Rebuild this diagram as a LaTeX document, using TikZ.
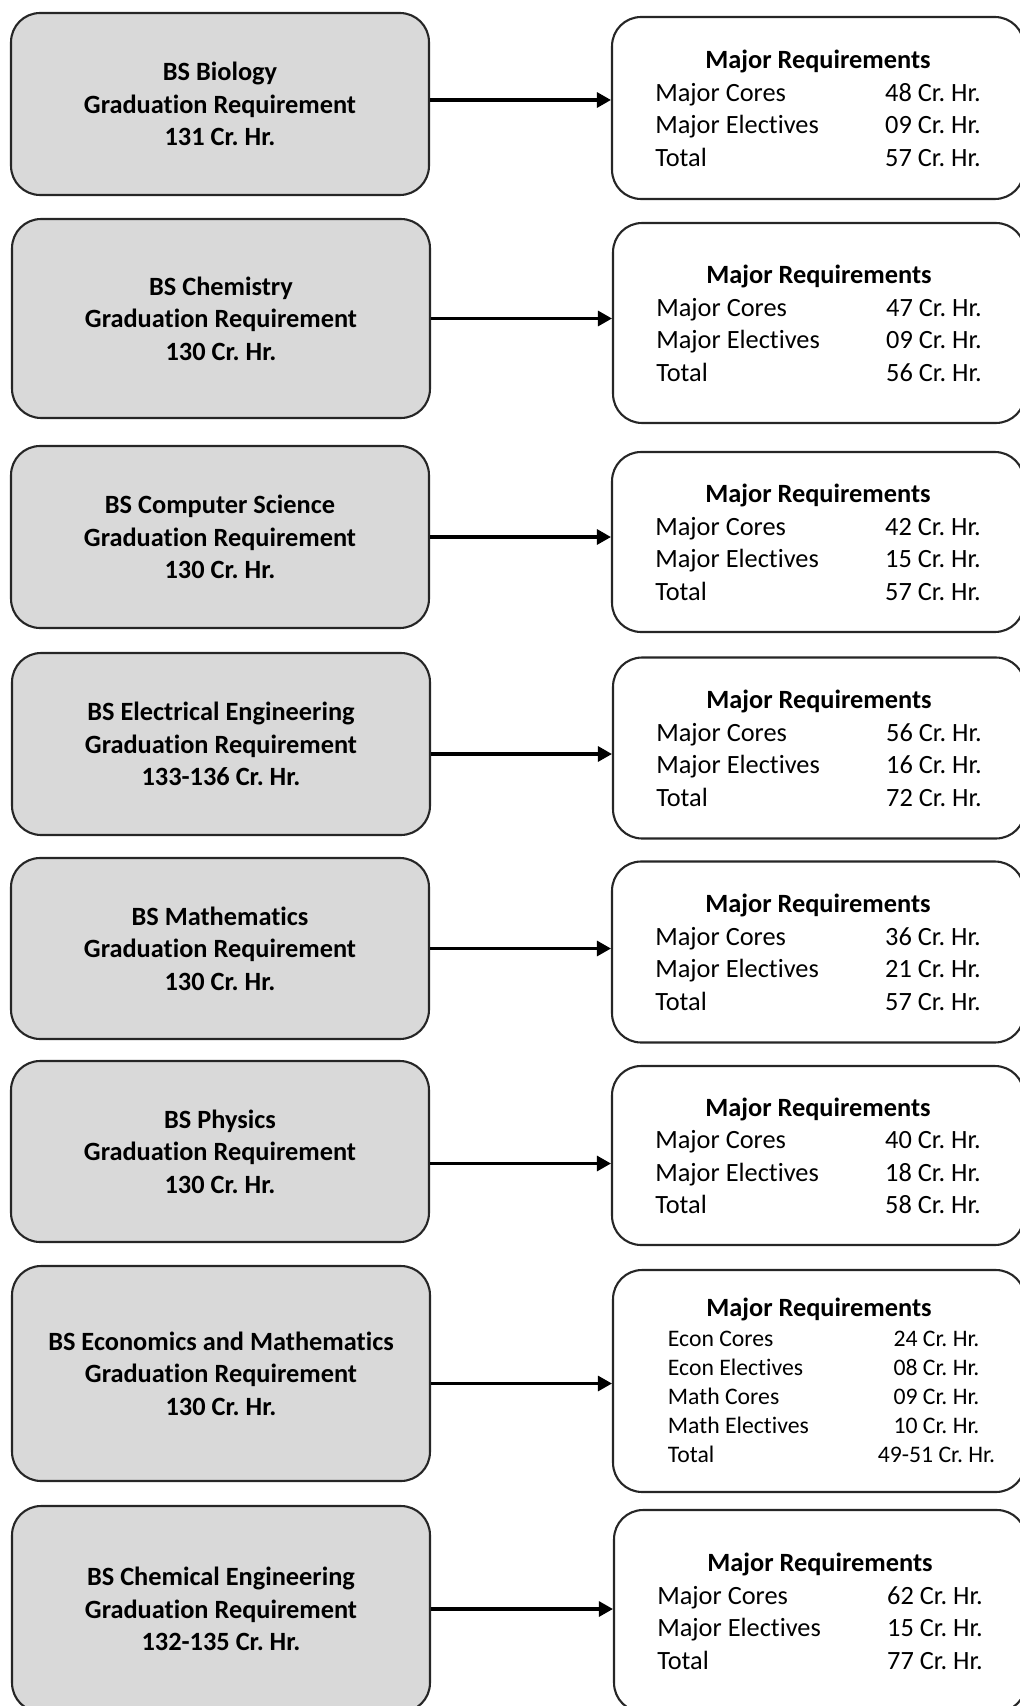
\documentclass[tikz,border=0pt]{standalone}
\usepackage{fontspec}
\setmainfont{Carlito}[Ligatures=NoCommon]
\usepackage{tikz}
\usetikzlibrary{shapes.geometric, arrows.meta}
\frenchspacing
\definecolor{boxgray}{HTML}{D9D9D9}
\definecolor{edgegray}{HTML}{262626}
\tikzstyle{progbox} = [rectangle, rounded corners=0.58cm, minimum width=8.36cm, inner sep=0pt, text centered, align=center, draw=edgegray, line width=1.2pt, fill=boxgray, font=\fontsize{15}{18.5}\selectfont\bfseries]
\tikzstyle{reqbox} = [rectangle, rounded corners=0.58cm, minimum width=8.24cm, inner sep=0pt, text centered, draw=edgegray, line width=1.2pt, fill=white, font=\fontsize{15}{18.5}\selectfont]
\tikzstyle{arrow} = [line width=1.8pt,->,>={Triangle[length=8pt,width=8.5pt]}]
\newcommand{\majreq}[3]{\raisebox{0pt}[\dimexpr\height+3.5pt\relax]{\begin{tabular}{@{}p{4.6cm}@{}l@{}}
\multicolumn{2}{c}{\textbf{Major Requirements}}\\
Major Cores & #1 Cr. Hr.\\
Major Electives & #2 Cr. Hr.\\
Total & #3 Cr. Hr.
\end{tabular}}}

\begin{document}
\begin{tikzpicture}[x=0.02cm, y=-0.02cm]
\useasboundingbox (0,0) rectangle (1020,1706);
\node (bio) [progbox, minimum height=3.64cm] at (220,104) {BS Biology\\Graduation Requirement\\131 Cr. Hr.};
\node (chem) [progbox, minimum height=3.98cm] at (221,318.5) {BS Chemistry\\Graduation Requirement\\130 Cr. Hr.};
\node (cs) [progbox, minimum height=3.64cm] at (220,537) {BS Computer Science\\Graduation Requirement\\130 Cr. Hr.};
\node (ee) [progbox, minimum height=3.64cm] at (221,744) {BS Electrical Engineering\\Graduation Requirement\\133-136 Cr. Hr.};
\node (math) [progbox, minimum height=3.62cm] at (220,948.5) {BS Mathematics\\Graduation Requirement\\130 Cr. Hr.};
\node (phy) [progbox, minimum height=3.62cm] at (220,1151.5) {BS Physics\\Graduation Requirement\\130 Cr. Hr.};
\node (econ) [progbox, minimum height=4.3cm] at (221,1373.5) {BS Economics and Mathematics\\Graduation Requirement\\130 Cr. Hr.};
\node (cheng) [progbox, minimum height=4.12cm] at (221,1609) {BS Chemical Engineering\\Graduation Requirement\\132-135 Cr. Hr.};

\node (biomaj) [reqbox, minimum height=3.64cm] at (818,108) {\majreq{48}{09}{57}};
\node (chemmaj) [reqbox, minimum height=4.0cm] at (819,323) {\majreq{47}{09}{56}};
\node (csmaj) [reqbox, minimum height=3.6cm] at (818,542) {\majreq{42}{15}{57}};
\node (eemaj) [reqbox, minimum height=3.62cm] at (819,748) {\majreq{56}{16}{72}};
\node (mathmaj) [reqbox, minimum height=3.62cm] at (818,952) {\majreq{36}{21}{57}};
\node (phymaj) [reqbox, minimum height=3.58cm] at (818,1155.5) {\majreq{40}{18}{58}};
\node (econmaj) [reqbox, minimum height=4.44cm, font=\fontsize{13.5}{16.5}\selectfont] at (819,1381) {\raisebox{0pt}[\dimexpr\height+3pt\relax]{\begin{tabular}{@{\hspace{0.5cm}}p{4.2cm}@{}c@{}}
\multicolumn{2}{c}{\fontsize{15}{18.5}\selectfont\textbf{Major Requirements}}\\[1pt]
Econ Cores & 24 Cr. Hr.\\
Econ Electives & 08 Cr. Hr.\\
Math Cores & 09 Cr. Hr.\\
Math Electives & 10 Cr. Hr.\\
Total & 49-51 Cr. Hr.
\end{tabular}}};
\node (chengmaj) [reqbox, minimum height=4.04cm] at (820,1611) {\majreq{62}{15}{77}};

\draw [arrow] ([yshift=0.08cm]bio.east) -- ([yshift=0.08cm]bio.east -| biomaj.west);
\draw [arrow] (chem.east) -- (chem.east -| chemmaj.west);
\draw [arrow] (cs.east) -- (cs.east -| csmaj.west);
\draw [arrow] ([yshift=-0.2cm]ee.east) -- ([yshift=-0.2cm]ee.east -| eemaj.west);
\draw [arrow] (math.east) -- (math.east -| mathmaj.west);
\draw [arrow] ([yshift=-0.24cm]phy.east) -- ([yshift=-0.24cm]phy.east -| phymaj.west);
\draw [arrow] ([yshift=-0.2cm]econ.east) -- ([yshift=-0.2cm]econ.east -| econmaj.west);
\draw [arrow] (cheng.east) -- (cheng.east -| chengmaj.west);
\end{tikzpicture}
\end{document}
